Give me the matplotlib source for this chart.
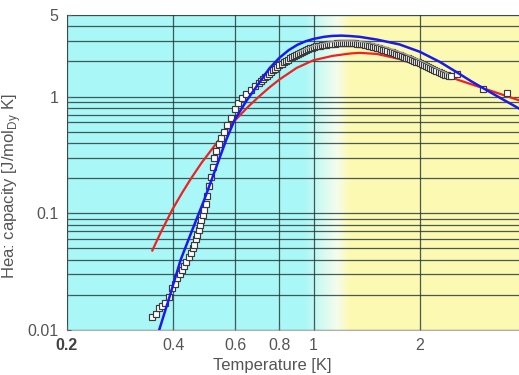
import numpy as np
import matplotlib
matplotlib.use("Agg")
import matplotlib.pyplot as plt
from matplotlib.colors import LinearSegmentedColormap

plt.rcParams['font.family'] = ['Liberation Sans', 'DejaVu Sans']

# ---- data ----
sq_x = [0.349, 0.357, 0.365, 0.372, 0.380, 0.390, 0.398, 0.405, 0.411, 0.418,
        0.424, 0.430, 0.436, 0.443, 0.450, 0.455, 0.459, 0.464, 0.468, 0.472,
        0.476, 0.481, 0.486, 0.490, 0.495, 0.500, 0.506, 0.511, 0.517, 0.523,
        0.530, 0.538, 0.548, 0.558, 0.570, 0.584, 0.597, 0.610, 0.625, 0.645,
        0.665, 0.682,
        0.700, 0.709, 0.719, 0.728, 0.738, 0.748, 0.758, 0.768, 0.779, 0.789,
        0.800, 0.811, 0.822, 0.833, 0.844, 0.855, 0.867, 0.878, 0.890, 0.902,
        0.914, 0.926, 0.939, 0.951, 0.964, 0.977, 0.990, 1.003, 1.017, 1.030,
        1.044, 1.058, 1.072, 1.086, 1.101, 1.116, 1.131, 1.146, 1.161, 1.177,
        1.193, 1.209, 1.225, 1.241, 1.258, 1.275, 1.292, 1.309, 1.327, 1.344,
        1.362, 1.380, 1.399, 1.418, 1.437, 1.456, 1.476, 1.495, 1.515, 1.535,
        1.556, 1.577, 1.598, 1.619, 1.641, 1.663, 1.686, 1.708, 1.731, 1.754,
        1.778, 1.802, 1.826, 1.850, 1.875, 1.900, 1.926, 1.951, 1.977, 2.004,
        2.031, 2.058, 2.086, 2.114, 2.142, 2.171, 2.200, 2.229, 2.259, 2.289,
        2.320, 2.351, 2.383, 2.415, 2.447,
        2.550, 3.020, 3.530]
sq_y = [0.0130, 0.0138, 0.0153, 0.0160, 0.0172, 0.0193, 0.0229, 0.0250, 0.0279, 0.0300,
        0.0327, 0.0355, 0.0383, 0.0420, 0.0458, 0.0500, 0.0537, 0.0600, 0.0654, 0.0720,
        0.0790, 0.0870, 0.0960, 0.1070, 0.1200, 0.1400, 0.1700, 0.2050, 0.2500, 0.2950,
        0.3400, 0.3900, 0.4400, 0.5000, 0.5700, 0.6600, 0.7800, 0.8800, 0.9700, 1.0500,
        1.1400, 1.2200,
        1.300, 1.355, 1.410, 1.460, 1.510, 1.565, 1.620, 1.675, 1.730, 1.790,
        1.850, 1.905, 1.960, 2.015, 2.070, 2.120, 2.170, 2.230, 2.290, 2.335,
        2.380, 2.425, 2.470, 2.510, 2.550, 2.590, 2.630, 2.660, 2.690, 2.710,
        2.730, 2.750, 2.770, 2.785, 2.800, 2.815, 2.830, 2.840, 2.850, 2.860,
        2.870, 2.870, 2.870, 2.870, 2.870, 2.865, 2.860, 2.850, 2.840, 2.830,
        2.820, 2.800, 2.780, 2.755, 2.730, 2.705, 2.680, 2.650, 2.620, 2.590,
        2.560, 2.525, 2.490, 2.460, 2.430, 2.395, 2.360, 2.325, 2.290, 2.255,
        2.220, 2.185, 2.150, 2.120, 2.090, 2.055, 2.020, 1.990, 1.960, 1.930,
        1.900, 1.865, 1.830, 1.795, 1.760, 1.720, 1.680, 1.645, 1.610, 1.585,
        1.560, 1.540, 1.520, 1.505, 1.490,
        1.55, 1.17, 1.08]

blue_x = [0.365, 0.390, 0.420, 0.453, 0.490, 0.530, 0.566, 0.597, 0.645, 0.702,
          0.750, 0.800, 0.850, 0.900, 0.950, 1.000, 1.070, 1.130, 1.200, 1.270,
          1.350, 1.510, 1.750, 2.000, 2.280, 2.550, 2.800, 3.100, 3.450, 3.820]
blue_y = [0.0100, 0.0190, 0.0400, 0.0720, 0.1310, 0.2500, 0.4300, 0.6300, 0.9200, 1.3200,
          1.7500, 2.1500, 2.5000, 2.7800, 2.9800, 3.1200, 3.2500, 3.3100, 3.3300, 3.3000,
          3.2500, 3.0800, 2.8000, 2.4200, 1.9800, 1.6100, 1.3500, 1.1300, 0.9400, 0.7900]

red_x = [0.349, 0.370, 0.398, 0.424, 0.450, 0.481, 0.517, 0.550, 0.600, 0.650,
         0.700, 0.750, 0.800, 0.895, 1.000, 1.130, 1.270, 1.350, 1.510, 1.750,
         2.000, 2.280, 2.550, 3.100, 3.820]
red_y = [0.048, 0.070, 0.108, 0.150, 0.200, 0.270, 0.360, 0.460, 0.630, 0.810,
         1.000, 1.200, 1.400, 1.760, 2.050, 2.230, 2.340, 2.370, 2.320, 2.100,
         1.830, 1.610, 1.400, 1.150, 0.930]

gray_x = [0.90, 1.00, 1.10, 1.20, 1.30, 1.45, 1.60, 1.80, 2.00, 2.20, 2.40]
gray_y = [2.40, 2.72, 2.92, 3.00, 3.00, 2.88, 2.65, 2.35, 2.05, 1.78, 1.58]

x_ticks = [0.2, 0.4, 0.6, 0.8, 1, 2]
x_ticklabels = ['0.2', '0.4', '0.6', '0.8', '1', '2']
y_ticks = [0.01, 0.1, 1, 5]
y_ticklabels = ['0.01', '0.1', '1', '5']
y_minor = [0.02, 0.03, 0.04, 0.05, 0.06, 0.07, 0.08, 0.09,
           0.2, 0.3, 0.4, 0.5, 0.6, 0.7, 0.8, 0.9, 2, 3, 4]

# ---- figure ----
fig = plt.figure(figsize=(5.19, 3.75), dpi=100)
L, B, W, H = 67 / 519, 45 / 375, 452 / 519, 315 / 375
ax = fig.add_axes([L, B, W, H])
ax.set_xscale('log')
ax.set_yscale('log')

cyan = (0.67, 0.97, 0.97)
white = (0.96, 0.99, 0.93)
yellow = (0.99, 0.98, 0.70)
cmap = LinearSegmentedColormap.from_list(
    'bg', [(0.0, cyan), (0.525, cyan), (0.598, white), (0.625, yellow), (1.0, yellow)])
grad = np.linspace(0, 1, 800).reshape(1, -1)
ax.imshow(grad, extent=[0, 1, 0, 1], transform=ax.transAxes, aspect='auto',
          cmap=cmap, zorder=0, interpolation='bilinear')

ax.set_xlim(0.2, 3.82)
ax.set_ylim(0.01, 5)

ax.set_xticks(x_ticks)
ax.set_xticklabels(x_ticklabels)
ax.xaxis.set_minor_locator(matplotlib.ticker.NullLocator())
ax.set_yticks(y_ticks)
ax.set_yticklabels(y_ticklabels)
ax.set_yticks(y_minor, minor=True)
ax.yaxis.set_minor_formatter(matplotlib.ticker.NullFormatter())

ax.grid(True, which='major', axis='x', color='#1c3434', lw=0.9, alpha=0.8, zorder=1)
ax.grid(True, which='both', axis='y', color='#1c3434', lw=0.9, alpha=0.8, zorder=1)
ax.set_axisbelow(False)

ax.plot(red_x, red_y, color='#ee2222', lw=1.6, zorder=3)
ax.plot(sq_x, sq_y, linestyle='none', marker='s', ms=4.6, mfc='white',
        mec='#3a3a3a', mew=0.85, zorder=4)
ax.plot(gray_x, gray_y, color='#a0a0a0', lw=1.0, zorder=4.5)
ax.plot(blue_x, blue_y, color='#1a1aee', lw=1.8, zorder=5)

for s in ['left', 'bottom', 'top']:
    ax.spines[s].set_color('#b0b0b0')
ax.spines['right'].set_visible(False)

ax.tick_params(axis='both', which='both', direction='in', colors='#606060',
               labelcolor='#555555', labelsize=11.5)
ax.tick_params(axis='y', which='major', length=3, pad=6)
ax.tick_params(axis='y', which='minor', length=2)
ax.tick_params(axis='x', which='major', length=3, pad=6)
first = ax.get_xticklabels()[0]
first.set_fontweight('bold')
first.set_color('#444444')

ax.set_xlabel('Temperature [K]', color='#555555', fontsize=12)
ax.xaxis.set_label_coords((272 - 67) / 452, -0.088)
ax.set_ylabel('Hea: capacity [J/mol$_{\\mathregular{Dy}}$ K]', color='#555555',
              fontsize=12)
ax.yaxis.set_label_coords(-0.098, 0.457)

fig.savefig('out.png', dpi=100)
